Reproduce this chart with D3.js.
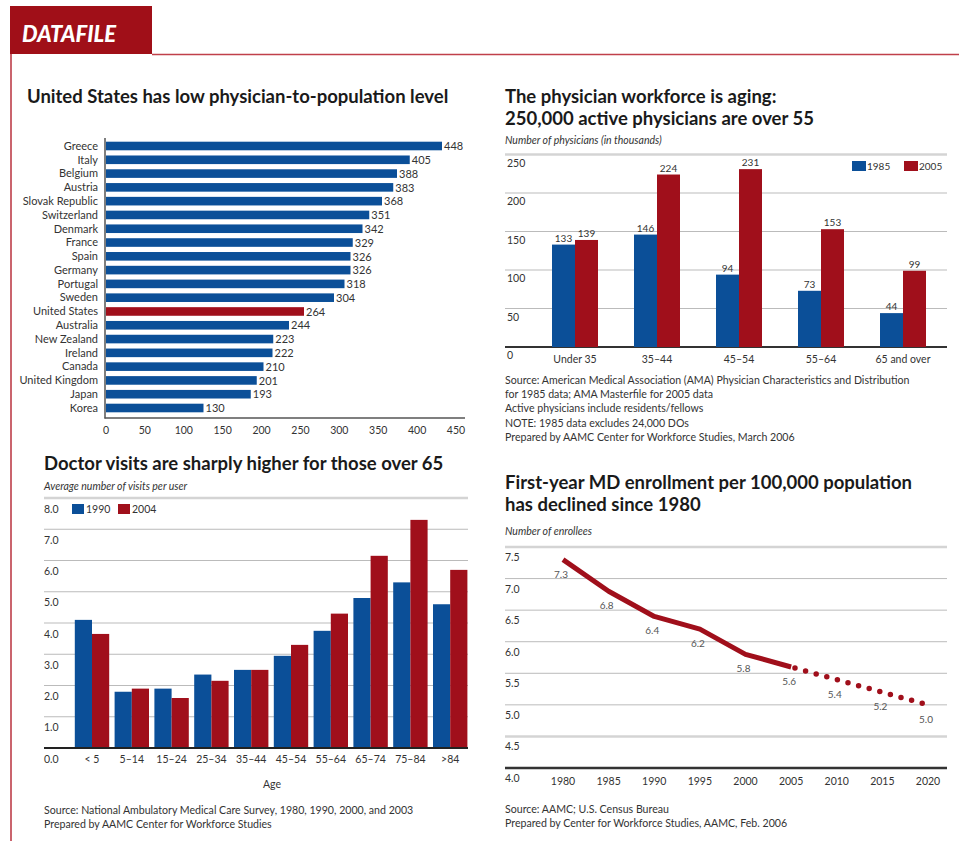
<!DOCTYPE html>
<html>
<head>
<meta charset="utf-8">
<script src="https://cdn.jsdelivr.net/npm/d3@7"></script>
<style>
  html, body { margin: 0; padding: 0; background: #fff; }
  svg { display: block; font-family: Lato, "Open Sans", "Noto Sans", sans-serif; }
  .title { font-weight: 700; font-size: 18.5px; fill: #1a1a1a; }
  .sub { font-style: italic; font-size: 10.5px; fill: #333; }
  .lbl { font-size: 10.5px; fill: #333; }
  .src { font-size: 10.6px; fill: #333; }
</style>
</head>
<body>
<svg id="chart" width="959" height="841"></svg>
<script>
// ---------- DATA ----------
const countries = ["Greece","Italy","Belgium","Austria","Slovak Republic","Switzerland","Denmark","France","Spain","Germany","Portugal","Sweden","United States","Australia","New Zealand","Ireland","Canada","United Kingdom","Japan","Korea"];
const physiciansPer100k = [448,405,388,383,368,351,342,329,326,326,318,304,264,244,223,222,210,201,193,130];
const rateTicks = [0,50,100,150,200,250,300,350,400,450];

const workforceAges = ["Under 35","35–44","45–54","55–64","65 and over"];
const workforce1985 = [133,146,94,73,44];
const workforce2005 = [139,224,231,153,99];
const workforceTicks = [0,50,100,150,200,250];

const visitAges = ["< 5","5–14","15–24","25–34","35–44","45–54","55–64","65–74","75–84",">84"];
const visits1990 = [4.1,1.8,1.9,2.35,2.5,2.95,3.75,4.8,5.3,4.6];
const visits2004 = [3.65,1.9,1.6,2.15,2.5,3.3,4.3,6.15,7.3,5.7];
const visitTicks = [0,1,2,3,4,5,6,7,8];

const enrollYears = [1980,1985,1990,1995,2000,2005,2010,2015,2020];
const enrollment = [7.3,6.8,6.4,6.2,5.8,5.6,5.4,5.2,5.0];
const lastActualYear = 2005;
const enrollTicks = [4.0,4.5,5.0,5.5,6.0,6.5,7.0,7.5];

const BLUE = "#0b4f98", RED = "#a00f1b";

const svg = d3.select("#chart");

// ---------- HEADER ----------
svg.append("rect").attr("x",10).attr("y",6).attr("width",142).attr("height",48).attr("fill","#a00f18");
svg.append("text").attr("x",22).attr("y",42).attr("fill","#fff")
  .style("font-weight",900).style("font-style","italic").style("font-size","22px").text("DATAFILE");
svg.append("line").attr("x1",152).attr("x2",959).attr("y1",54.5).attr("y2",54.5).attr("stroke","#c0404a").attr("stroke-width",1.5);
svg.append("line").attr("x1",11).attr("x2",11).attr("y1",54).attr("y2",841).attr("stroke","#b8303c").attr("stroke-width",1.5);

// ---------- CHART 1: horizontal bars ----------
{
  const g = svg.append("g");
  g.append("text").attr("class","title").attr("x",27).attr("y",103).text("United States has low physician-to-population level");
  const y = d3.scalePoint().domain(countries).range([146,408]);
  const xAxisScale = d3.scaleLinear().domain([0,450]).range([106,456]);
  const xBar = d3.scaleLinear().domain([0,450]).range([106,443.5]);
  const data = countries.map((c,i)=>({c, v: physiciansPer100k[i]}));
  g.selectAll("rect.bar").data(data).join("rect").attr("class","bar")
    .attr("x", xBar(0)).attr("y", d=>y(d.c)-4.3).attr("height",8.6)
    .attr("width", d=>xBar(d.v)-xBar(0))
    .attr("fill", d=>d.c==="United States"?RED:BLUE);
  g.selectAll("text.val").data(data).join("text").attr("class","lbl val")
    .style("font-size","11px")
    .attr("x", d=>xBar(d.v)+2).attr("y", d=>y(d.c)+4.2).text(d=>d.v);
  g.selectAll("text.cat").data(data).join("text").attr("class","lbl cat")
    .style("font-size","11px")
    .attr("x",98).attr("y", d=>y(d.c)+3.8).attr("text-anchor","end").text(d=>d.c);
  g.append("line").attr("x1",105).attr("x2",105).attr("y1",138).attr("y2",418.5).attr("stroke","#555").attr("stroke-width",1.5);
  g.append("line").attr("x1",104.5).attr("x2",465).attr("y1",418).attr("y2",418).attr("stroke","#555").attr("stroke-width",1.5);
  g.selectAll("text.tick").data(rateTicks).join("text").attr("class","lbl tick")
    .attr("x", d=>xAxisScale(d)).attr("y",434).attr("text-anchor","middle").text(d=>d);
}

// ---------- CHART 2: grouped bars (workforce) ----------
{
  const g = svg.append("g");
  g.append("text").attr("class","title").attr("x",505).attr("y",103).text("The physician workforce is aging:");
  g.append("text").attr("class","title").attr("x",505).attr("y",125).text("250,000 active physicians are over 55");
  g.append("text").attr("class","sub").attr("x",505).attr("y",144).text("Number of physicians (in thousands)");
  const y = d3.scaleLinear().domain([0,250]).range([347,154.5]);
  const x0 = d3.scaleBand().domain(workforceAges).range([534,944]);
  const x1 = d3.scaleBand().domain(["1985","2005"]).range([0,46]);
  const off = (x0.bandwidth()-46)/2;
  workforceTicks.forEach(t=>{
    let stroke="#bbb", w=1;
    if (t===250){stroke="#d4d4d4"; w=2.5;}
    if (t===0){stroke="#333"; w=2;}
    g.append("line").attr("x1",505).attr("x2",947).attr("y1",y(t)).attr("y2",y(t)).attr("stroke",stroke).attr("stroke-width",w);
  });
  g.selectAll("text.yt").data(workforceTicks).join("text").attr("class","lbl yt")
    .attr("x",507).attr("y",d=>y(d)+12).text(d=>d);
  const data = [];
  workforceAges.forEach((a,i)=>{
    data.push({a, s:"1985", v:workforce1985[i]});
    data.push({a, s:"2005", v:workforce2005[i]});
  });
  g.selectAll("rect.b").data(data).join("rect").attr("class","b")
    .attr("x", d=>x0(d.a)+off+x1(d.s)).attr("width", x1.bandwidth())
    .attr("y", d=>y(d.v)).attr("height", d=>y(0)-y(d.v))
    .attr("fill", d=>d.s==="1985"?BLUE:RED);
  g.selectAll("text.v").data(data).join("text").attr("class","lbl v")
    .style("font-size","10px")
    .attr("x", d=>x0(d.a)+off+x1(d.s)+x1.bandwidth()/2).attr("y", d=>y(d.v)-3)
    .attr("text-anchor","middle").text(d=>d.v);
  g.selectAll("text.c").data(workforceAges).join("text").attr("class","lbl c")
    .attr("x", d=>x0(d)+x0.bandwidth()/2).attr("y",363).attr("text-anchor","middle").text(d=>d);
  // legend
  g.append("rect").attr("x",852).attr("y",161).attr("width",14).attr("height",10).attr("fill",BLUE);
  g.append("text").attr("class","lbl").attr("x",867).attr("y",170).style("font-size","10px").text("1985");
  g.append("rect").attr("x",904).attr("y",161).attr("width",14).attr("height",10).attr("fill",RED);
  g.append("text").attr("class","lbl").attr("x",919).attr("y",170).style("font-size","10px").text("2005");
  const src = ["Source: American Medical Association (AMA) Physician Characteristics and Distribution",
    "for 1985 data; AMA Masterfile for 2005 data",
    "Active physicians include residents/fellows",
    "NOTE: 1985 data excludes 24,000 DOs",
    "Prepared by AAMC Center for Workforce Studies, March 2006"];
  g.selectAll("text.s").data(src).join("text").attr("class","src s")
    .attr("x",505).attr("y",(d,i)=>384+i*14.2).text(d=>d);
}

// ---------- CHART 3: grouped bars (visits) ----------
{
  const g = svg.append("g");
  g.append("text").attr("class","title").attr("x",44).attr("y",470).text("Doctor visits are sharply higher for those over 65");
  g.append("text").attr("class","sub").attr("x",44).attr("y",490).text("Average number of visits per user");
  const y = d3.scaleLinear().domain([0,8]).range([748,498]);
  const x0 = d3.scaleBand().domain(visitAges).range([72.1,470.1]);
  const x1 = d3.scaleBand().domain(["1990","2004"]).range([0,34.4]);
  const off = (x0.bandwidth()-34.4)/2;
  visitTicks.forEach(t=>{
    let stroke="#bbb", w=1;
    if (t===8){stroke="#d4d4d4"; w=2.5;}
    if (t===0){stroke="#222"; w=2;}
    g.append("line").attr("x1",44).attr("x2",468).attr("y1",y(t)).attr("y2",y(t)).attr("stroke",stroke).attr("stroke-width",w);
  });
  g.selectAll("text.yt").data(visitTicks).join("text").attr("class","lbl yt")
    .attr("x",44).attr("y",d=>y(d)+14.5).text(d=>d3.format(".1f")(d));
  const data = [];
  visitAges.forEach((a,i)=>{
    data.push({a, s:"1990", v:visits1990[i]});
    data.push({a, s:"2004", v:visits2004[i]});
  });
  g.selectAll("rect.b").data(data).join("rect").attr("class","b")
    .attr("x", d=>x0(d.a)+off+x1(d.s)).attr("width", x1.bandwidth())
    .attr("y", d=>y(d.v)).attr("height", d=>y(0)-y(d.v)-1)
    .attr("fill", d=>d.s==="1990"?BLUE:RED);
  g.selectAll("text.c").data(visitAges).join("text").attr("class","lbl c")
    .attr("x", d=>x0(d)+x0.bandwidth()/2).attr("y",763).attr("text-anchor","middle").text(d=>d);
  g.append("text").attr("class","lbl").attr("x",272).attr("y",788).attr("text-anchor","middle").text("Age");
  g.append("rect").attr("x",72).attr("y",504).attr("width",12).attr("height",10).attr("fill",BLUE);
  g.append("text").attr("class","lbl").attr("x",86).attr("y",513).text("1990");
  g.append("rect").attr("x",118).attr("y",504).attr("width",12).attr("height",10).attr("fill",RED);
  g.append("text").attr("class","lbl").attr("x",132).attr("y",513).text("2004");
  const src = ["Source: National Ambulatory Medical Care Survey, 1980, 1990, 2000, and 2003",
    "Prepared by AAMC Center for Workforce Studies"];
  g.selectAll("text.s").data(src).join("text").attr("class","src s")
    .attr("x",44).attr("y",(d,i)=>814+i*13.5).text(d=>d);
}

// ---------- CHART 4: line ----------
{
  const g = svg.append("g");
  g.append("text").attr("class","title").attr("x",505).attr("y",489).text("First-year MD enrollment per 100,000 population");
  g.append("text").attr("class","title").attr("x",505).attr("y",511).text("has declined since 1980");
  g.append("text").attr("class","sub").attr("x",505).attr("y",535).text("Number of enrollees");
  const y = d3.scaleLinear().domain([4,7.5]).range([768,547]);
  const x = d3.scaleLinear().domain([1980,2020]).range([563,928]);
  enrollTicks.forEach(t=>{
    let stroke="#bbb", w=1;
    if (t===7.5 || t===4.5){stroke="#d4d4d4"; w=2.5;}
    if (t===4){stroke="#333"; w=2.5;}
    g.append("line").attr("x1",505).attr("x2",947).attr("y1",y(t)).attr("y2",y(t)).attr("stroke",stroke).attr("stroke-width",w);
  });
  g.selectAll("text.yt").data(enrollTicks).join("text").attr("class","lbl yt")
    .attr("x",505).attr("y",d=>y(d)+14).text(d=>d3.format(".1f")(d));
  g.selectAll("text.xt").data(enrollYears).join("text").attr("class","lbl xt")
    .attr("x",d=>x(d)).attr("y",785).attr("text-anchor","middle").text(d=>d);
  const pts = enrollYears.map((yr,i)=>({yr, v:enrollment[i]}));
  const line = d3.line().x(d=>x(d.yr)).y(d=>y(d.v));
  g.append("path").datum(pts.filter(d=>d.yr<=lastActualYear)).attr("d",line)
    .attr("fill","none").attr("stroke",RED).attr("stroke-width",5).attr("stroke-linejoin","round");
  g.append("path").datum(pts.filter(d=>d.yr>=lastActualYear)).attr("d",line)
    .attr("fill","none").attr("stroke",RED).attr("stroke-width",5.5).attr("stroke-linecap","round")
    .attr("stroke-dasharray","0 11").attr("stroke-dashoffset",-4);
  g.selectAll("text.dl").data(pts).join("text").attr("class","dl")
    .style("font-size","10px").attr("fill","#555")
    .attr("x",d=>x(d.yr)-2).attr("y",d=>y(d.v)+18).attr("text-anchor","middle").text(d=>d3.format(".1f")(d.v));
  const src = ["Source: AAMC; U.S. Census Bureau","Prepared by Center for Workforce Studies, AAMC, Feb. 2006"];
  g.selectAll("text.s").data(src).join("text").attr("class","src s")
    .attr("x",505).attr("y",(d,i)=>813+i*13.5).text(d=>d);
}
</script>
</body>
</html>
